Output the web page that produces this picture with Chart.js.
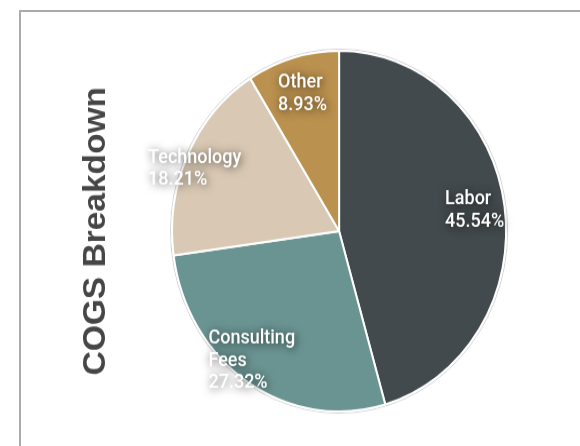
<!DOCTYPE html>
<html>
<head>
<meta charset="utf-8">
<script src="https://cdn.jsdelivr.net/npm/chart.js@4.4.0/dist/chart.umd.min.js"></script>
<style>
  html, body { margin: 0; padding: 0; background: #fff; }
  body { width: 580px; height: 446px; position: relative; overflow: hidden; }
  /* panel edge, only top and left are in view */
  #frame { position: absolute; left: 19px; top: 10px; right: -20px; bottom: -20px;
           border-top: 2px solid #aaacaa; border-left: 2px solid #aaacaa; }
  /* the pie is drawn taller than wide, so the whole canvas is stretched */
  #wrap { position: absolute; left: 0; top: 0; width: 580px; height: 413px;
          transform-origin: 0 0; transform: scaleY(1.08); }
</style>
</head>
<body>
<div id="frame"></div>
<div id="wrap"><canvas id="cogs" width="580" height="413"></canvas></div>
<script>
const categories = ["Labor", "Consulting Fees", "Technology", "Other"];
const shares = [45.54, 27.32, 18.21, 8.93];

const sliceColors = ["#434a4d", "#6a9492", "#d9c9b4", "#bb914f"];

// split a label into lines no wider than maxWidth
function wrapText(ctx, text, maxWidth) {
  const words = text.split(" ");
  const lines = [];
  let cur = "";
  words.forEach(w => {
    const test = cur ? cur + " " + w : w;
    if (cur && ctx.measureText(test).width > maxWidth) {
      lines.push(cur);
      cur = w;
    } else {
      cur = test;
    }
  });
  if (cur) lines.push(cur);
  return lines;
}

// faint grey rim round the pie
const pieRim = {
  id: "pieRim",
  beforeDatasetsDraw(chart) {
    const arc = chart.getDatasetMeta(0).data[0];
    if (!arc) return;
    const ctx = chart.ctx;
    ctx.save();
    ctx.beginPath();
    ctx.arc(arc.x, arc.y, arc.outerRadius + 1.5, 0, Math.PI * 2);
    ctx.strokeStyle = "rgba(120,120,120,0.35)";
    ctx.lineWidth = 1;
    ctx.stroke();
    ctx.restore();
  }
};

// name + percent written inside each slice
const sliceLabels = {
  id: "sliceLabels",
  afterDatasetsDraw(chart, args, opts) {
    const ctx = chart.ctx;
    const meta = chart.getDatasetMeta(0);
    const data = chart.data.datasets[0].data;
    const total = data.reduce((a, b) => a + b, 0);
    ctx.save();
    ctx.font = opts.weight + " " + opts.size + "px " + opts.family;
    ctx.textAlign = "left";
    ctx.textBaseline = "middle";
    ctx.fillStyle = opts.color;
    ctx.shadowColor = "rgba(0,0,0,0.7)";
    ctx.shadowBlur = 8;
    ctx.shadowOffsetX = 1;
    ctx.shadowOffsetY = 1;
    meta.data.forEach((arc, i) => {
      const lines = wrapText(ctx, chart.data.labels[i], opts.maxWidth);
      lines.push((data[i] / total * 100).toFixed(2) + "%");
      const w = Math.max(...lines.map(l => ctx.measureText(l).width));
      const h = lines.length * opts.lineHeight;
      const p = arc.getProps(["x", "y", "startAngle", "endAngle", "outerRadius"], true);
      const mid = (p.startAngle + p.endAngle) / 2 + (opts.turn[i] || 0);
      const r = p.outerRadius * opts.radius[i];
      const cx = p.x + Math.cos(mid) * r;
      const cy = p.y + Math.sin(mid) * r;
      const left = cx - w / 2;
      let y = cy - h / 2 + opts.lineHeight / 2;
      lines.forEach(line => {
        ctx.fillText(line, left, y);
        y += opts.lineHeight;
      });
    });
    ctx.restore();
  }
};

new Chart(document.getElementById("cogs"), {
  type: "pie",
  data: {
    labels: categories,
    datasets: [{
      data: shares,
      backgroundColor: sliceColors,
      borderColor: "#ffffff",
      borderWidth: 2,
      radius: 167
    }]
  },
  options: {
    responsive: false,
    animation: false,
    devicePixelRatio: 1,
    layout: { padding: { left: 70, right: 17, top: 15, bottom: 0 } },
    plugins: {
      legend: { display: false },
      tooltip: { enabled: false },
      title: {
        display: true,
        text: "COGS Breakdown",
        position: "left",
        color: "#464646",
        font: { family: "Liberation Sans", size: 31, weight: "bold", lineHeight: 1.2 },
        padding: { top: 8, bottom: 0 }
      },
      sliceLabels: {
        family: "Roboto",
        weight: "500",
        size: 18,
        lineHeight: 20.5,
        maxWidth: 100,
        color: "#ffffff",
        radius: [0.82, 0.89, 0.93, 0.79],
        turn: [0, 0.05, -0.06, 0]
      }
    }
  },
  plugins: [pieRim, sliceLabels]
});
</script>
</body>
</html>
